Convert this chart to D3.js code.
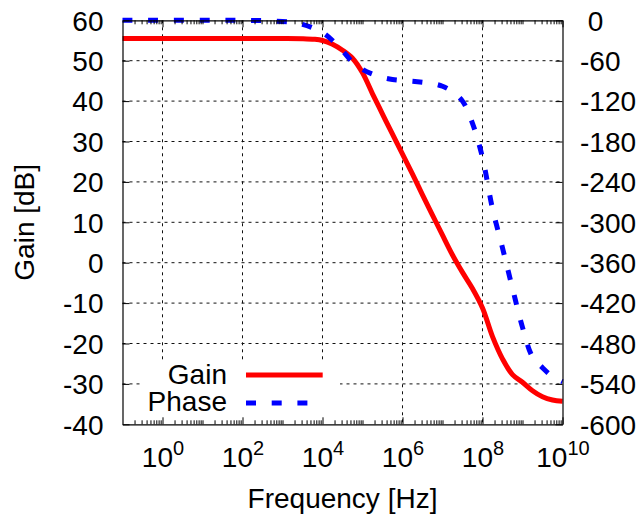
<!DOCTYPE html>
<html>
<head>
<meta charset="utf-8">
<script src="https://cdn.jsdelivr.net/npm/d3@7"></script>
<style>
  body { margin: 0; background: #fff; }
  text { font-family: "Liberation Sans", Arial, Helvetica, sans-serif; fill: #000; }
</style>
</head>
<body>
<svg id="chart" width="640" height="515"></svg>
<script>
// Open-loop response: frequency in Hz, gain in dB, phase in degrees
const gainFreqHz = [1e-1, 1e0, 1e2, 1e3, 3.16e3, 6.31e3, 1e4, 1.78e4, 3.16e4, 5.62e4,
  1e5, 1.78e5, 3.16e5, 5.62e5, 1e6, 1.78e6, 3.16e6, 5.62e6, 1e7, 1.78e7, 3.16e7,
  5.62e7, 1e8, 1.78e8, 3.16e8, 5.62e8, 1e9, 1.78e9, 3.16e9, 5.62e9, 1e10];
const gainDb = [55.5, 55.5, 55.5, 55.5, 55.45, 55.3, 55.0, 54.1, 52.6, 50.6,
  47.0, 41.8, 36.8, 31.8, 26.9, 21.9, 16.8, 11.8, 6.8, 1.9, -2.4,
  -6.4, -11.2, -18.3, -23.8, -27.7, -29.6, -31.7, -33.2, -34.0, -34.3];

const phaseFreqHz = [1e-1, 1e2, 5.62e2, 1.78e3, 3.16e3, 5.62e3, 1e4, 1.78e4, 3.16e4, 5.62e4,
  1e5, 1.78e5, 3.16e5, 5.62e5, 1e6, 1.78e6, 3.16e6, 5.62e6, 1e7, 1.78e7, 3.16e7,
  5.62e7, 1e8, 1.78e8, 3.16e8, 5.62e8, 1e9, 1.78e9, 3.16e9, 5.62e9, 1e10];
const phaseDeg = [0, 0, -1, -3, -6, -11, -18, -30, -45, -62,
  -73, -80, -85, -88, -89.5, -90.5, -92, -94, -98, -106, -120,
  -153, -204, -280, -338, -398, -456, -500, -516, -529, -537];

const xTickExponents = [0, 2, 4, 6, 8, 10];
const yTicks = [60, 50, 40, 30, 20, 10, 0, -10, -20, -30, -40];
const y2Ticks = [0, -60, -120, -180, -240, -300, -360, -420, -480, -540, -600];
const y2TickLabels = [" 0", "-60", "-120", "-180", "-240", "-300", "-360", "-420", "-480", "-540", "-600"];
const seriesNames = ["Gain", "Phase"];
const seriesColors = ["#ff0000", "#0000ff"];

const svg = d3.select("#chart");
const W = 640, H = 515;
const L = 122.5, R = 562.5, T = 20.3, B = 424.3;
const FONT = 28;

svg.append("rect").attr("width", W).attr("height", H).attr("fill", "#fff");

const x = d3.scaleLog().domain([1e-1, 1e10]).range([L, R]);
const y = d3.scaleLinear().domain([-40, 60]).range([B, T]);
const y2 = d3.scaleLinear().domain([-600, 0]).range([B, T]);

const majorX = xTickExponents.map(e => Math.pow(10, e));
const minorX = [];
for (let e = -1; e <= 9; e++) {
  for (let j = 1; j <= 9; j++) {
    const v = j * Math.pow(10, e);
    if (j === 1 && e % 2 === 0) continue;
    if (v > 1e-1 * 1.0001 && v < 1e10) minorX.push(v);
  }
}

// grid
const grid = svg.append("g").attr("stroke", "#111").attr("stroke-width", 1)
  .attr("stroke-dasharray", "3,4").attr("fill", "none");
grid.selectAll("line.h").data(yTicks.filter(v => v > -40 && v < 60)).join("line")
  .attr("x1", L).attr("x2", R).attr("y1", d => y(d)).attr("y2", d => y(d));
grid.selectAll("line.v").data(majorX.filter(v => v > 1e-1 && v < 1e10)).join("line")
  .attr("y1", T).attr("y2", B).attr("x1", d => x(d)).attr("x2", d => x(d));

// legend box (opaque)
const legend = { x0: 140, x1: 340, y0: 360, y1: 423 };
svg.append("rect").attr("x", legend.x0).attr("y", legend.y0)
  .attr("width", legend.x1 - legend.x0).attr("height", legend.y1 - legend.y0).attr("fill", "#fff");

// curves
const smooth = d3.curveCatmullRom.alpha(0.5);
const gainLine = d3.line().x(d => x(d[0])).y(d => y(d[1])).curve(smooth);
const phaseLine = d3.line().x(d => x(d[0])).y(d => y2(d[1])).curve(smooth);

svg.append("path").datum(d3.zip(gainFreqHz, gainDb)).attr("d", gainLine)
  .attr("fill", "none").attr("stroke", seriesColors[0]).attr("stroke-width", 5)
  .attr("stroke-linejoin", "round");
svg.append("path").datum(d3.zip(phaseFreqHz, phaseDeg)).attr("d", phaseLine)
  .attr("fill", "none").attr("stroke", seriesColors[1]).attr("stroke-width", 5)
  .attr("stroke-dasharray", "10,15.7");

// axes
function styleAxis(g) {
  g.select(".domain").attr("stroke", "#000").attr("stroke-width", 1.2);
  g.selectAll(".tick line").attr("stroke", "#000").attr("stroke-width", 1);
  g.selectAll("text").style("font-size", FONT + "px").attr("fill", "#000");
}

// bottom
const gBottom = svg.append("g").attr("transform", `translate(0,${B})`)
  .call(d3.axisBottom(x).tickValues(majorX).tickSize(-7).tickSizeOuter(0).tickFormat(""));
svg.append("g").attr("transform", `translate(0,${B})`)
  .call(d3.axisBottom(x).tickValues(minorX).tickSize(-4).tickSizeOuter(0).tickFormat(""))
  .call(g => g.select(".domain").remove())
  .call(styleAxis);
styleAxis(gBottom);
gBottom.selectAll(".tick").append("text")
  .attr("y", 42.4).attr("text-anchor", "middle").style("font-size", FONT + "px")
  .each(function (d) {
    const t = d3.select(this);
    t.append("tspan").text("10");
    t.append("tspan").attr("dy", -11.7).style("font-size", "20px").text(String(Math.round(Math.log10(d))));
  });

// top
svg.append("g").attr("transform", `translate(0,${T})`)
  .call(d3.axisTop(x).tickValues(majorX).tickSize(-7).tickSizeOuter(0).tickFormat(""))
  .call(styleAxis);
svg.append("g").attr("transform", `translate(0,${T})`)
  .call(d3.axisTop(x).tickValues(minorX).tickSize(-4).tickSizeOuter(0).tickFormat(""))
  .call(g => g.select(".domain").remove())
  .call(styleAxis);

// left
svg.append("g").attr("transform", `translate(${L},0)`)
  .call(d3.axisLeft(y).tickValues(yTicks).tickSize(-7).tickSizeOuter(0).tickPadding(19)
    .tickFormat(d => String(d)))
  .call(styleAxis)
  .call(g => g.selectAll("text").attr("dy", "0.35em"));

// right
svg.append("g").attr("transform", `translate(${R},0)`)
  .call(d3.axisRight(y2).tickValues(y2Ticks).tickSize(-7).tickSizeOuter(0).tickPadding(17.5)
    .tickFormat((d, i) => y2TickLabels[i]))
  .call(styleAxis)
  .call(g => g.selectAll("text").attr("dy", "0.35em").style("white-space", "pre")
    .attr("xml:space", "preserve"));

// axis titles
svg.append("text").attr("x", (L + R) / 2).attr("y", 508).attr("text-anchor", "middle")
  .style("font-size", FONT + "px").text("Frequency [Hz]");
svg.append("text").attr("transform", `translate(34,${(T + B) / 2}) rotate(-90)`)
  .attr("text-anchor", "middle").style("font-size", FONT + "px").text("Gain [dB]");

// legend entries
const legendRows = [
  { name: seriesNames[0], color: seriesColors[0], dash: null, yText: 384, yLine: 375 },
  { name: seriesNames[1], color: seriesColors[1], dash: "10,15.7", yText: 411, yLine: 403 }
];
legendRows.forEach(r => {
  svg.append("text").attr("x", 227).attr("y", r.yText).attr("text-anchor", "end")
    .style("font-size", FONT + "px").text(r.name);
  svg.append("line").attr("x1", 246).attr("x2", 322.7).attr("y1", r.yLine).attr("y2", r.yLine)
    .attr("stroke", r.color).attr("stroke-width", 5)
    .attr("stroke-dasharray", r.dash);
});
</script>
</body>
</html>
